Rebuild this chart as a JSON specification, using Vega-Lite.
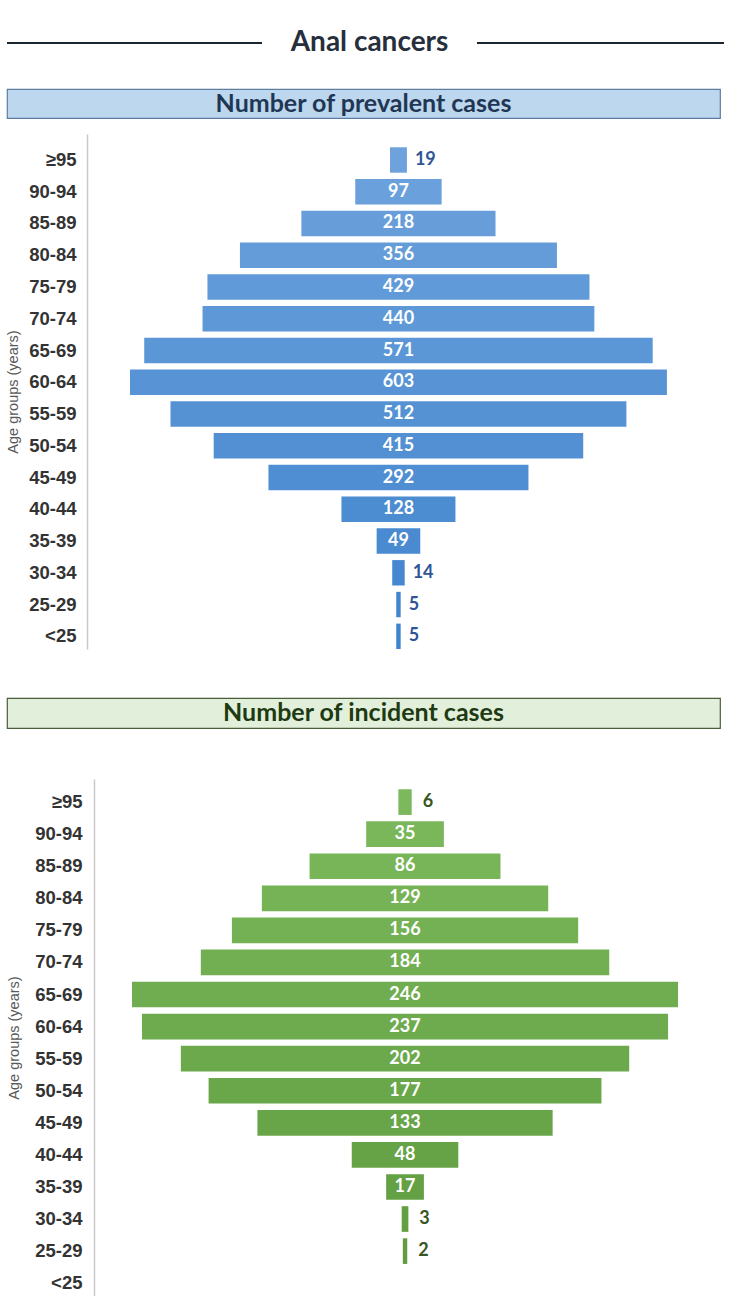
{
  "$schema": "https://vega.github.io/schema/vega-lite/v6.json",
  "background": "white",
  "padding": {"left": 5, "top": 28, "right": 0, "bottom": 0},
  "config": {"view": {"stroke": null}, "font": "Lato"},
  "resolve": {"scale": {"color": "independent"}},
  "datasets": {
    "prev": [
      {"age": "≥95", "n": 19}, {"age": "90-94", "n": 97}, {"age": "85-89", "n": 218},
      {"age": "80-84", "n": 356}, {"age": "75-79", "n": 429}, {"age": "70-74", "n": 440},
      {"age": "65-69", "n": 571}, {"age": "60-64", "n": 603}, {"age": "55-59", "n": 512},
      {"age": "50-54", "n": 415}, {"age": "45-49", "n": 292}, {"age": "40-44", "n": 128},
      {"age": "35-39", "n": 49}, {"age": "30-34", "n": 14}, {"age": "25-29", "n": 5},
      {"age": "<25", "n": 5}
    ],
    "inc": [
      {"age": "≥95", "n": 6}, {"age": "90-94", "n": 35}, {"age": "85-89", "n": 86},
      {"age": "80-84", "n": 129}, {"age": "75-79", "n": 156}, {"age": "70-74", "n": 184},
      {"age": "65-69", "n": 246}, {"age": "60-64", "n": 237}, {"age": "55-59", "n": 202},
      {"age": "50-54", "n": 177}, {"age": "45-49", "n": 133}, {"age": "40-44", "n": 48},
      {"age": "35-39", "n": 17}, {"age": "30-34", "n": 3}, {"age": "25-29", "n": 2}
    ]
  },
  "spacing": 48,
  "vconcat": [
    {
      "spacing": 30,
      "resolve": {"scale": {"color": "independent"}},
      "vconcat": [
        {
          "spacing": 0,
          "resolve": {"scale": {"color": "independent", "y": "independent"}},
          "hconcat": [
            {
              "width": 255, "height": 30,
              "data": {"values": [{"k": 1}]},
              "mark": {"type": "rule", "color": "#1b2530", "strokeWidth": 2},
              "encoding": {"y": {"datum": 0, "type": "quantitative", "scale": {"domain": [-1, 1]}, "axis": null}}
            },
            {
              "width": 213, "height": 30,
              "data": {"values": [{"t": "Anal cancers"}]},
              "mark": {"type": "text", "font": "Lato", "fontSize": 28, "fontWeight": "bold", "color": "#262f3b"},
              "encoding": {"text": {"field": "t", "type": "nominal"}}
            },
            {
              "width": 247, "height": 30,
              "data": {"values": [{"k": 1}]},
              "mark": {"type": "rule", "color": "#1b2530", "strokeWidth": 2},
              "encoding": {"y": {"datum": 0, "type": "quantitative", "scale": {"domain": [-1, 1]}, "axis": null}}
            }
          ]
        },
        {
          "spacing": 15,
          "resolve": {"scale": {"color": "independent"}},
          "vconcat": [
            {
              "width": 713, "height": 29,
              "view": {"fill": "#bdd7ee", "stroke": "#5b7da0", "strokeWidth": 1.2},
              "data": {"values": [{"t": "Number of prevalent cases"}]},
              "mark": {"type": "text", "font": "Lato", "fontSize": 25, "fontWeight": "bold", "color": "#1f3654"},
              "encoding": {"text": {"field": "t", "type": "nominal"}}
            },
            {
              "width": 713, "height": 515,
              "data": {"name": "prev"},
              "encoding": {
                "y": {
                  "field": "age", "type": "nominal",
                  "scale": {"domain": ["≥95", "90-94", "85-89", "80-84", "75-79", "70-74", "65-69", "60-64", "55-59", "50-54", "45-49", "40-44", "35-39", "30-34", "25-29", "<25"], "paddingInner": 0.2, "paddingOuter": 0.209, "align": 1},
                  "axis": {
                    "title": "Age groups (years)", "titleFont": "Liberation Sans", "titleFontSize": 14.5, "titleFontWeight": "normal", "titleColor": "#595959", "titlePadding": 8,
                    "labelFont": "Liberation Sans", "labelFontSize": 18.5, "labelFontWeight": "bold", "labelColor": "#333333", "labelPadding": 11,
                    "ticks": false, "grid": false, "domainColor": "#c9c9c9", "domainWidth": 1.5, "offset": -80
                  }
                }
              },
              "layer": [
                {
                  "mark": {"type": "bar"},
                  "encoding": {
                    "x": {"field": "n", "type": "quantitative", "stack": "center", "scale": {"domain": [-138.1, 662.6], "nice": false, "zero": false}, "axis": null},
                    "color": {
                      "field": "age", "type": "nominal", "legend": null,
                      "scale": {
                        "domain": ["≥95", "90-94", "85-89", "80-84", "75-79", "70-74", "65-69", "60-64", "55-59", "50-54", "45-49", "40-44", "35-39", "30-34", "25-29", "<25"],
                        "range": ["#6da2dc", "#6aa0db", "#679eda", "#649cd9", "#619ad8", "#5e98d7", "#5b96d6", "#5894d5", "#5592d4", "#5290d3", "#4f8ed2", "#4c8cd1", "#498ad0", "#4688cf", "#4386ce", "#4084cd"]
                      }
                    }
                  }
                },
                {
                  "mark": {"type": "text", "font": "Lato", "fontSize": 18, "fontWeight": "bold", "color": "white"},
                  "encoding": {
                    "x": {"field": "n", "type": "quantitative", "stack": "center", "bandPosition": 0.5},
                    "text": {"condition": {"test": "datum.n >= 20", "field": "n", "type": "quantitative"}, "value": ""}
                  }
                },
                {
                  "mark": {"type": "text", "font": "Lato", "fontSize": 18, "fontWeight": "bold", "color": "#2f5597", "align": "left", "dx": 8},
                  "encoding": {
                    "x": {"field": "n", "type": "quantitative", "stack": "center"},
                    "text": {"condition": {"test": "datum.n < 20", "field": "n", "type": "quantitative"}, "value": ""}
                  }
                }
              ]
            }
          ]
        }
      ]
    },
    {
      "spacing": 50,
      "resolve": {"scale": {"color": "independent"}},
      "vconcat": [
        {
          "width": 713, "height": 30,
          "view": {"fill": "#e2efda", "stroke": "#4a5e3a", "strokeWidth": 1.2},
          "data": {"values": [{"t": "Number of incident cases"}]},
          "mark": {"type": "text", "font": "Lato", "fontSize": 25, "fontWeight": "bold", "color": "#1d3a12"},
          "encoding": {"text": {"field": "t", "type": "nominal"}}
        },
        {
          "width": 713, "height": 517,
          "data": {"name": "inc"},
          "encoding": {
            "y": {
              "field": "age", "type": "nominal",
              "scale": {"domain": ["≥95", "90-94", "85-89", "80-84", "75-79", "70-74", "65-69", "60-64", "55-59", "50-54", "45-49", "40-44", "35-39", "30-34", "25-29", "<25"], "paddingInner": 0.2, "paddingOuter": 0.16, "align": 1},
              "axis": {
                "title": "Age groups (years)", "titleFont": "Liberation Sans", "titleFontSize": 14.5, "titleFontWeight": "normal", "titleColor": "#595959", "titlePadding": 13,
                "labelFont": "Liberation Sans", "labelFontSize": 18.5, "labelFontWeight": "bold", "labelColor": "#333333", "labelPadding": 12,
                "ticks": false, "grid": false, "domainColor": "#c9c9c9", "domainWidth": 1.5, "offset": -87
              }
            }
          },
          "layer": [
            {
              "mark": {"type": "bar"},
              "encoding": {
                "x": {"field": "n", "type": "quantitative", "stack": "center", "scale": {"domain": [-56.32, 264.9], "nice": false, "zero": false}, "axis": null},
                "color": {
                  "field": "age", "type": "nominal", "legend": null,
                  "scale": {
                    "domain": ["≥95", "90-94", "85-89", "80-84", "75-79", "70-74", "65-69", "60-64", "55-59", "50-54", "45-49", "40-44", "35-39", "30-34", "25-29", "<25"],
                    "range": ["#7cb85c", "#7ab65a", "#78b458", "#76b256", "#74b054", "#72ae52", "#70ac50", "#6eaa4e", "#6ca84c", "#6aa64a", "#68a448", "#66a246", "#64a044", "#629e42", "#609c40", "#5e9a3e"]
                  }
                }
              }
            },
            {
              "mark": {"type": "text", "font": "Lato", "fontSize": 18, "fontWeight": "bold", "color": "white"},
              "encoding": {
                "x": {"field": "n", "type": "quantitative", "stack": "center", "bandPosition": 0.5},
                "text": {"condition": {"test": "datum.n >= 10", "field": "n", "type": "quantitative"}, "value": ""}
              }
            },
            {
              "mark": {"type": "text", "font": "Lato", "fontSize": 18, "fontWeight": "bold", "color": "#375623", "align": "left", "dx": 11},
              "encoding": {
                "x": {"field": "n", "type": "quantitative", "stack": "center"},
                "text": {"condition": {"test": "datum.n < 10", "field": "n", "type": "quantitative"}, "value": ""}
              }
            }
          ]
        }
      ]
    }
  ]
}
